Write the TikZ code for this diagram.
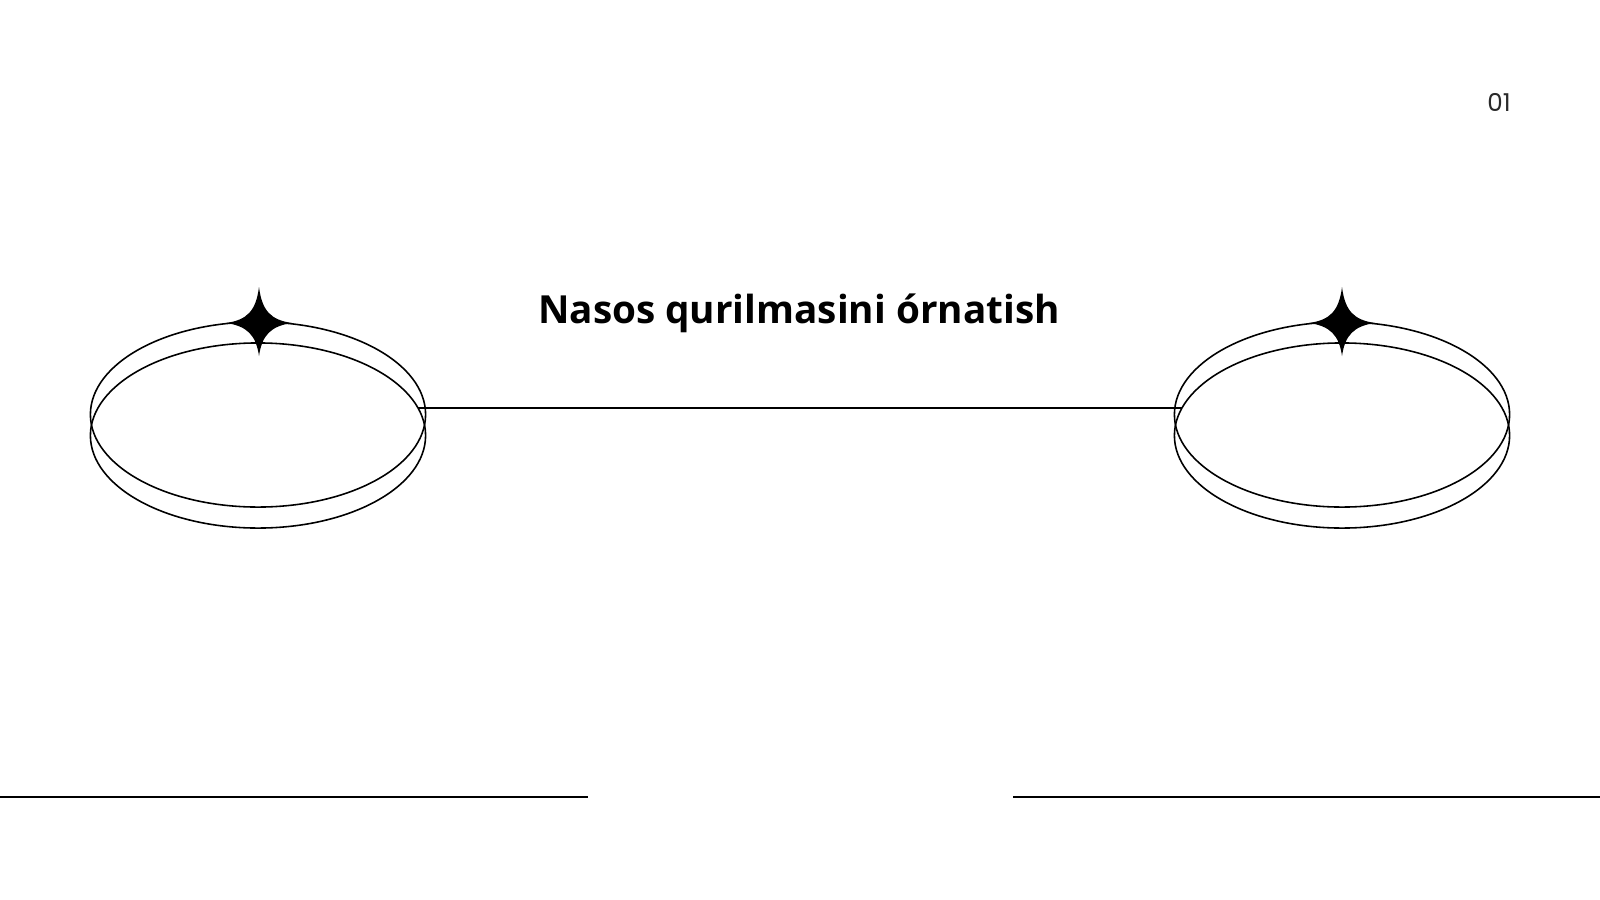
\documentclass[tikz,border=0pt]{standalone}
\usepackage{fontspec}
\setmainfont{Open Sans}
\newfontfamily\numfont{Poppins}
\usetikzlibrary{shapes.geometric}

\definecolor{inkgray}{HTML}{2A2A2A}

% four-pointed sparkle, centred at the current origin
\newcommand{\sparkle}{%
  \fill (0,-36) .. controls (3,-12) and (12,-3) .. (33,0)
        .. controls (12,3) and (3,12) .. (0,33)
        .. controls (-3,12) and (-12,3) .. (-33,0)
        .. controls (-12,-3) and (-3,-12) .. (0,-36) -- cycle;}

\begin{document}
\begin{tikzpicture}[x=0.01cm,y=-0.01cm]
\tikzstyle{ring}=[ellipse, draw, line width=0.45pt, inner sep=0pt,
                        minimum width=3.35cm, minimum height=1.85cm]
\tikzstyle{rule}=[line width=0.45pt]
\useasboundingbox (0,0) rectangle (1600,900);

	% rings, upper and lower
	\node[ring] (ringLup) at (258,414.5){};
	\node[ring] (ringLlow) at (258,435.5){};
	\node[ring] (ringRup) at (1342,414.5){};
	\node[ring] (ringRlow) at (1342,435.5){};

	% sparkles on top of the rings
	\begin{scope}[shift={(259,323)}] \sparkle \end{scope}
	\begin{scope}[shift={(1342,323)}] \sparkle \end{scope}

	% texts
	\node[anchor=base, font=\fontsize{11}{13}\selectfont\bfseries] (title) at (799,323){Nasos qurilmasini órnatish};
	\node[anchor=base, text=inkgray, font=\fontsize{7}{8.4}\numfont] (pageno) at (1499,111){01};

	% connector between the rings
	\coordinate (linkL) at (418,408);
	\coordinate (linkR) at (1182,408);
\draw[rule] (linkL)--(linkR);

	% rules at the bottom
	\coordinate (ruleLa) at (0,797);
	\coordinate (ruleLb) at (588,797);
	\coordinate (ruleRa) at (1013,797);
	\coordinate (ruleRb) at (1600,797);
\draw[rule] (ruleLa)--(ruleLb)(ruleRa)--(ruleRb);
\end{tikzpicture}
\end{document}
